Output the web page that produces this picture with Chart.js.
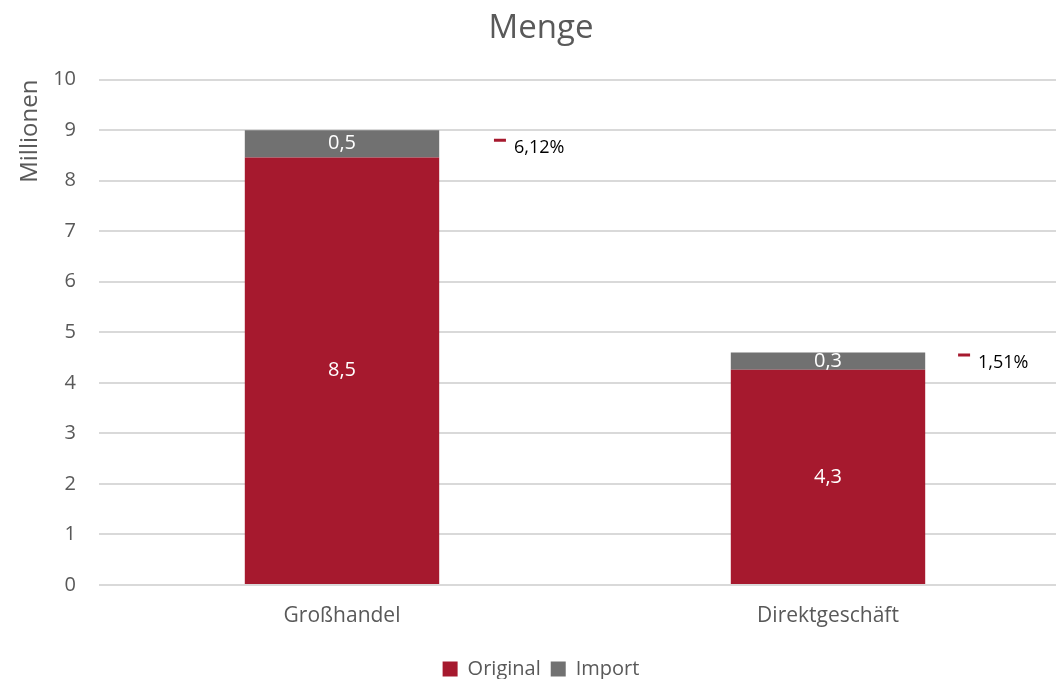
<!DOCTYPE html>
<html>
<head>
<meta charset="utf-8">
<script src="https://cdn.jsdelivr.net/npm/chart.js@4"></script>
<style>
  html, body { margin: 0; padding: 0; background: #fff; overflow: hidden; }
  #wrap { width: 1080px; height: 689px; }
</style>
</head>
<body>
<div id="wrap"><canvas id="chart" width="1080" height="689"></canvas></div>
<script>
// Daten
const kategorien = ['Großhandel', 'Direktgeschäft'];
const original = [8.46, 4.26];
const importMenge = [0.54, 0.34];
const markerX = [0.325, 1.28];
const markerY = [8.8, 4.55];
const prozentLabels = ['6,12%', '1,51%'];
const yTicks = [0, 1, 2, 3, 4, 5, 6, 7, 8, 9, 10];

const ROT = '#A6192E';
const GRAU = '#717171';
const TEXT = '#595959';
const FONT = "'Open Sans', 'Noto Sans', sans-serif";

// Beschriftungen in den Balken + Prozent neben den Markern
const labelPlugin = {
    id: 'labels',
    afterDatasetsDraw(chart) {
        const ctx = chart.ctx;
        ctx.save();
        ctx.textAlign = 'center';
        ctx.textBaseline = 'middle';
        ctx.font = '20px ' + FONT;
        ctx.fillStyle = '#FFFFFF';
        [0, 1].forEach(di => {
            const meta = chart.getDatasetMeta(di);
            meta.data.forEach((bar, i) => {
                const v = chart.data.datasets[di].data[i];
                const yMid = (bar.y + bar.base) / 2;
                ctx.fillText(v.toFixed(1).replace('.', ','), bar.x, yMid);
            });
        });
        const m = chart.getDatasetMeta(2);
        ctx.textAlign = 'left';
        ctx.fillStyle = '#000000';
        ctx.font = '18px ' + FONT;
        m.data.forEach((pt, i) => {
            ctx.fillText(prozentLabels[i], pt.x + 14, pt.y + 8);
        });
        ctx.restore();
    }
};

new Chart(document.getElementById('chart'), {
    data: {
        labels: kategorien,
        datasets: [
            { type: 'bar', label: 'Original', data: original, backgroundColor: ROT, stack: 's', order: 2 },
            { type: 'bar', label: 'Import', data: importMenge, backgroundColor: GRAU, stack: 's', order: 2 },
            {
                type: 'scatter', label: 'marker', xAxisID: 'x2', stack: 'm', order: 1,
                data: markerX.map((x, i) => ({ x: x, y: markerY[i] })),
                pointStyle: 'line', pointRadius: 6, borderWidth: 3,
                borderColor: ROT, backgroundColor: ROT
            }
        ]
    },
    options: {
        responsive: false,
        animation: false,
        layout: { padding: { left: 10, right: 8, top: 5, bottom: 0 } },
        datasets: { bar: { categoryPercentage: 1, barPercentage: 0.4, grouped: false } },
        scales: {
            x: {
                stacked: true,
                afterFit: (axis) => { axis.height = 64; },
                grid: { display: false },
                border: { display: false },
                ticks: { color: TEXT, font: { family: FONT, size: 21 }, padding: 10 }
            },
            x2: { type: 'linear', display: false, min: -0.5, max: 1.5 },
            y: {
                stacked: true,
                min: 0, max: 10,
                afterBuildTicks: (axis) => { axis.ticks = yTicks.map(v => ({ value: v })); },
                afterFit: (axis) => { axis.width = 89; },
                grid: { color: '#D9D9D9', lineWidth: 2, drawTicks: false },
                border: { display: false },
                ticks: { color: TEXT, font: { family: FONT, size: 20 }, padding: 23 },
                title: { display: true, text: 'Millionen', align: 'end', color: TEXT, font: { family: FONT, size: 24 }, padding: { top: 6, bottom: 8 } }
            }
        },
        plugins: {
            title: { display: true, text: 'Menge', color: TEXT, font: { family: FONT, size: 33, weight: 'normal' }, padding: { top: 4, bottom: 31 } },
            legend: {
                position: 'bottom',
                labels: {
                    filter: (item) => item.datasetIndex < 2,
                    boxWidth: 15, boxHeight: 15, padding: 10,
                    color: TEXT, font: { family: FONT, size: 20 }
                }
            },
            tooltip: { enabled: false }
        }
    },
    plugins: [labelPlugin]
});
</script>
</body>
</html>
